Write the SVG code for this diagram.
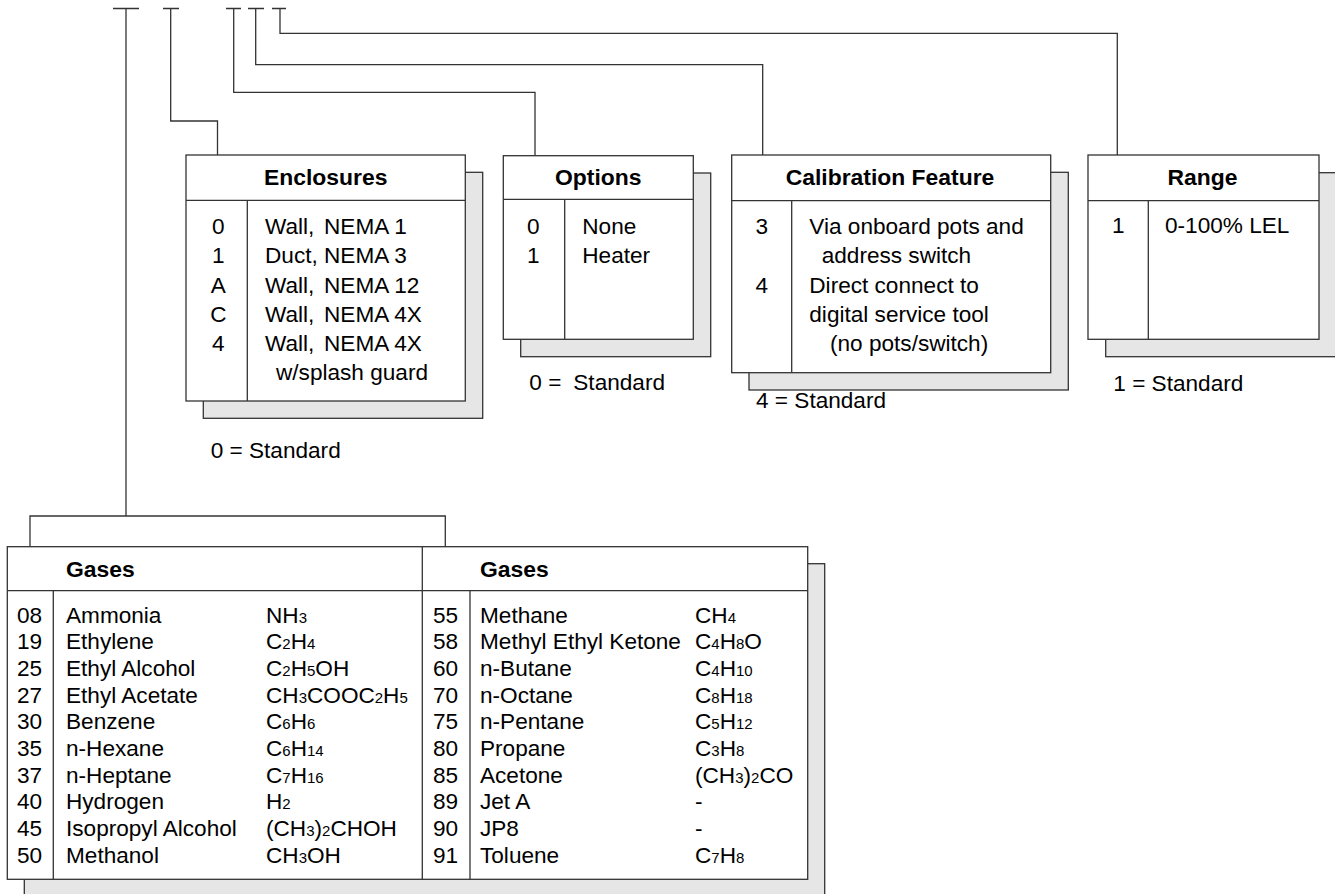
<svg xmlns="http://www.w3.org/2000/svg" width="1335" height="894" viewBox="0 0 1335 894">
<style>
.ln{fill:none;stroke:#333;stroke-width:1.3}
.box{fill:#fff;stroke:#333;stroke-width:1.3}
.sh{fill:#e6e6e6;stroke:#333;stroke-width:1.3}
text{font-family:"Liberation Sans",Arial,Helvetica,sans-serif;font-size:22.6px;fill:#000}
.h{font-weight:bold;font-size:22.9px}
.c{text-anchor:middle}
.s{font-size:15px}
</style>
<rect width="1335" height="894" fill="#fff"/>
<g id="connectors">
<path class="ln" d="M113 8.5H139M126 8.5V516M30 546.7V516H445.3V546.7"/>
<path class="ln" d="M163 8.5H179M170.7 8.5V121H217.5V155"/>
<path class="ln" d="M226 8.5H241M233.7 8.5V92.3H535V155.7"/>
<path class="ln" d="M248 8.5H264M255.7 8.5V64.7H762.7V155"/>
<path class="ln" d="M272 8.5H286M280 8.5V33.3H1117.3V155"/>
</g>
<g id="enclosures">
<rect class="sh" x="203.3" y="172.3" width="279.4" height="246"/>
<rect class="box" x="186" y="155" width="279.3" height="246"/>
<path class="ln" d="M186 200.3H465.3M247.3 200.3V401"/>
<text class="h c" x="325.7" y="185">Enclosures</text>
<text class="c" x="218.3" y="234.3">0</text>
<text class="c" x="218.3" y="263.3">1</text>
<text class="c" x="218.3" y="292.7">A</text>
<text class="c" x="218.3" y="321.7">C</text>
<text class="c" x="218.3" y="350.7">4</text>
<text x="265" y="234.3">Wall,<tspan x="324">NEMA 1</tspan></text>
<text x="265" y="263.3">Duct,<tspan x="324">NEMA 3</tspan></text>
<text x="265" y="292.7">Wall,<tspan x="324">NEMA 12</tspan></text>
<text x="265" y="321.7">Wall,<tspan x="324">NEMA 4X</tspan></text>
<text x="265" y="350.7">Wall,<tspan x="324">NEMA 4X</tspan></text>
<text x="276" y="380">w/splash guard</text>
<text x="210.7" y="458.3">0 = Standard</text>
</g>
<g id="options">
<rect class="sh" x="520.7" y="173" width="190" height="183.7"/>
<rect class="box" x="503.3" y="155.7" width="190" height="183.6"/>
<path class="ln" d="M503.3 199.3H693.3M564.7 199.3V339.3"/>
<text class="h c" x="598.3" y="185">Options</text>
<text class="c" x="533.3" y="234.3">0</text>
<text class="c" x="533.3" y="263.3">1</text>
<text x="582.3" y="234.3">None</text>
<text x="582.3" y="263.3">Heater</text>
<text x="529.3" y="390">0 =<tspan x="573.3">Standard</tspan></text>
</g>
<g id="calibration">
<rect class="sh" x="749" y="172.3" width="319.3" height="217.7"/>
<rect class="box" x="731.7" y="155" width="319" height="217.7"/>
<path class="ln" d="M731.7 200.7H1050.7M791.7 200.7V372.7"/>
<text class="h c" x="890" y="185">Calibration Feature</text>
<text class="c" x="761.7" y="234.3">3</text>
<text class="c" x="761.7" y="292.7">4</text>
<text x="809.3" y="234.3">Via onboard pots and</text>
<text x="821.7" y="263.3">address switch</text>
<text x="809.3" y="292.7">Direct connect to</text>
<text x="809.3" y="321.7">digital service tool</text>
<text x="830" y="350.7">(no pots/switch)</text>
<text x="756" y="408.3">4 = Standard</text>
</g>
<g id="range">
<rect class="sh" x="1105.7" y="172.7" width="240" height="184"/>
<rect class="box" x="1088" y="155" width="231" height="184.3"/>
<path class="ln" d="M1088 200.7H1319M1148.3 200.7V339.3"/>
<text class="h c" x="1202.5" y="185">Range</text>
<text class="c" x="1118.3" y="233.3">1</text>
<text x="1165" y="233.3">0-100% LEL</text>
<text x="1113.3" y="390.7">1 = Standard</text>
</g>
<g id="gases">
<rect class="sh" x="24.3" y="563.7" width="800.4" height="340"/>
<rect class="box" x="7.3" y="546.7" width="800.4" height="332.6"/>
<path class="ln" d="M7.3 590.7H807.7M53.3 590.7V879.3M422.3 546.7V879.3M470 590.7V879.3"/>
<text class="h" x="66" y="576.7">Gases</text>
<text class="h" x="480" y="576.7">Gases</text>
<g id="gases-left">
<text x="17" y="622.7">08</text>
<text x="17" y="649.4">19</text>
<text x="17" y="676">25</text>
<text x="17" y="702.7">27</text>
<text x="17" y="729.4">30</text>
<text x="17" y="756">35</text>
<text x="17" y="782.7">37</text>
<text x="17" y="809.4">40</text>
<text x="17" y="836">45</text>
<text x="17" y="862.7">50</text>
<text x="66" y="622.7">Ammonia</text>
<text x="66" y="649.4">Ethylene</text>
<text x="66" y="676">Ethyl Alcohol</text>
<text x="66" y="702.7">Ethyl Acetate</text>
<text x="66" y="729.4">Benzene</text>
<text x="66" y="756">n-Hexane</text>
<text x="66" y="782.7">n-Heptane</text>
<text x="66" y="809.4">Hydrogen</text>
<text x="66" y="836">Isopropyl Alcohol</text>
<text x="66" y="862.7">Methanol</text>
<text x="266" y="622.7">NH<tspan class="s">3</tspan></text>
<text x="266" y="649.4">C<tspan class="s">2</tspan>H<tspan class="s">4</tspan></text>
<text x="266" y="676">C<tspan class="s">2</tspan>H<tspan class="s">5</tspan>OH</text>
<text x="266" y="702.7">CH<tspan class="s">3</tspan>COOC<tspan class="s">2</tspan>H<tspan class="s">5</tspan></text>
<text x="266" y="729.4">C<tspan class="s">6</tspan>H<tspan class="s">6</tspan></text>
<text x="266" y="756">C<tspan class="s">6</tspan>H<tspan class="s">14</tspan></text>
<text x="266" y="782.7">C<tspan class="s">7</tspan>H<tspan class="s">16</tspan></text>
<text x="266" y="809.4">H<tspan class="s">2</tspan></text>
<text x="266" y="836">(CH<tspan class="s">3</tspan>)<tspan class="s">2</tspan>CHOH</text>
<text x="266" y="862.7">CH<tspan class="s">3</tspan>OH</text>
</g>
<g id="gases-right">
<text x="433" y="622.7">55</text>
<text x="433" y="649.4">58</text>
<text x="433" y="676">60</text>
<text x="433" y="702.7">70</text>
<text x="433" y="729.4">75</text>
<text x="433" y="756">80</text>
<text x="433" y="782.7">85</text>
<text x="433" y="809.4">89</text>
<text x="433" y="836">90</text>
<text x="433" y="862.7">91</text>
<text x="480" y="622.7">Methane</text>
<text x="480" y="649.4">Methyl Ethyl Ketone</text>
<text x="480" y="676">n-Butane</text>
<text x="480" y="702.7">n-Octane</text>
<text x="480" y="729.4">n-Pentane</text>
<text x="480" y="756">Propane</text>
<text x="480" y="782.7">Acetone</text>
<text x="480" y="809.4">Jet A</text>
<text x="480" y="836">JP8</text>
<text x="480" y="862.7">Toluene</text>
<text x="695" y="622.7">CH<tspan class="s">4</tspan></text>
<text x="695" y="649.4">C<tspan class="s">4</tspan>H<tspan class="s">8</tspan>O</text>
<text x="695" y="676">C<tspan class="s">4</tspan>H<tspan class="s">10</tspan></text>
<text x="695" y="702.7">C<tspan class="s">8</tspan>H<tspan class="s">18</tspan></text>
<text x="695" y="729.4">C<tspan class="s">5</tspan>H<tspan class="s">12</tspan></text>
<text x="695" y="756">C<tspan class="s">3</tspan>H<tspan class="s">8</tspan></text>
<text x="695" y="782.7">(CH<tspan class="s">3</tspan>)<tspan class="s">2</tspan>CO</text>
<text x="695" y="809.4">-</text>
<text x="695" y="836">-</text>
<text x="695" y="862.7">C<tspan class="s">7</tspan>H<tspan class="s">8</tspan></text>
</g>
</g>
</svg>
